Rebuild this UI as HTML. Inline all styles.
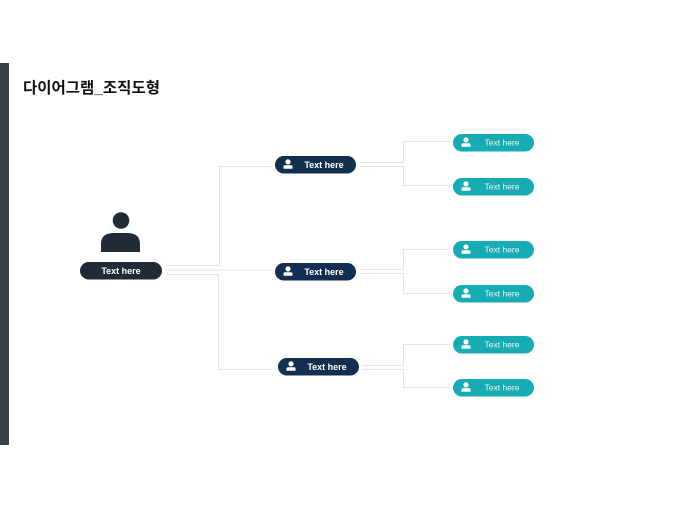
<!DOCTYPE html>
<html><head><meta charset="utf-8"><style>
html,body{margin:0;padding:0;background:#fff;}
body{width:680px;height:510px;overflow:hidden;position:relative;font-family:"Liberation Sans","Noto Sans CJK KR",sans-serif;}
</style></head><body>
<svg width="680" height="510" viewBox="0 0 680 510" xmlns="http://www.w3.org/2000/svg" style="position:absolute;left:0;top:0">
<defs>
<g id="pi"><circle cx="0" cy="-2.6" r="2.6" fill="#fff"/><path d="M-4.5,4.2 V2.2 Q-4.5,0.8 -3,0.8 H3 Q4.5,0.8 4.5,2.2 V4.2 Z" fill="#fff"/></g>
</defs>
<rect x="0" y="63" width="9" height="382" fill="#3a3f47"/>
<text x="23" y="93" font-size="15.5" font-weight="bold" fill="#111" font-family="Liberation Sans, Noto Sans CJK KR, sans-serif">다이어그램_조직도형</text>
<g stroke="#e4e4e4" stroke-width="1" fill="none">
<polyline points="166,265.5 219.5,265.5 219.5,166.5 272,166.5"/>
<line x1="166" y1="270" x2="272" y2="270"/>
<polyline points="166,274.5 218.5,274.5 218.5,369.5 272,369.5"/>
<polyline points="360,162.5 403.5,162.5 403.5,141.5 450,141.5"/>
<polyline points="360,166.5 403.5,166.5 403.5,185.5 450,185.5"/>
<polyline points="360,269.5 403.5,269.5 403.5,249.5 450,249.5"/>
<polyline points="360,273.5 403.5,273.5 403.5,293.5 450,293.5"/>
<polyline points="362,365.5 403.5,365.5 403.5,344.5 450,344.5"/>
<polyline points="362,369.5 403.5,369.5 403.5,387.5 450,387.5"/>
</g>
<circle cx="121" cy="220.5" r="8.3" fill="#222a35"/>
<path d="M101,252 V244 Q101,233 114,233 H127 Q140,233 140,244 V252 Z" fill="#222a35"/>
<rect x="80" y="262" width="82" height="17.5" rx="8.75" fill="#222a35"/>
<text x="121" y="274" font-size="9" font-weight="bold" fill="#fff" text-anchor="middle">Text here</text>
<g fill="#132f50">
<rect x="275" y="156" width="81" height="17.5" rx="8.75"/>
<rect x="275" y="263" width="81" height="17.5" rx="8.75"/>
<rect x="278" y="358" width="81" height="17.5" rx="8.75"/>
</g>
<use href="#pi" x="288" y="164.5"/><use href="#pi" x="288" y="271.5"/><use href="#pi" x="291" y="366.5"/>
<g font-size="9" font-weight="bold" fill="#fff" text-anchor="middle">
<text x="324" y="168">Text here</text><text x="324" y="275">Text here</text><text x="327" y="370">Text here</text>
</g>
<g fill="#17acb3">
<rect x="453" y="134" width="81" height="17.5" rx="8.75"/>
<rect x="453" y="178" width="81" height="17.5" rx="8.75"/>
<rect x="453" y="241" width="81" height="17.5" rx="8.75"/>
<rect x="453" y="285" width="81" height="17.5" rx="8.75"/>
<rect x="453" y="336" width="81" height="17.5" rx="8.75"/>
<rect x="453" y="379" width="81" height="17.5" rx="8.75"/>
</g>
<use href="#pi" x="466" y="142.5"/><use href="#pi" x="466" y="186.5"/><use href="#pi" x="466" y="249.5"/>
<use href="#pi" x="466" y="293.5"/><use href="#pi" x="466" y="344.5"/><use href="#pi" x="466" y="387.5"/>
<g font-size="8.5" fill="#e8f8f8" text-anchor="middle">
<text x="502" y="145.5">Text here</text><text x="502" y="189.5">Text here</text><text x="502" y="252.5">Text here</text>
<text x="502" y="296.5">Text here</text><text x="502" y="347.5">Text here</text><text x="502" y="390.5">Text here</text>
</g>
</svg>
</body></html>
